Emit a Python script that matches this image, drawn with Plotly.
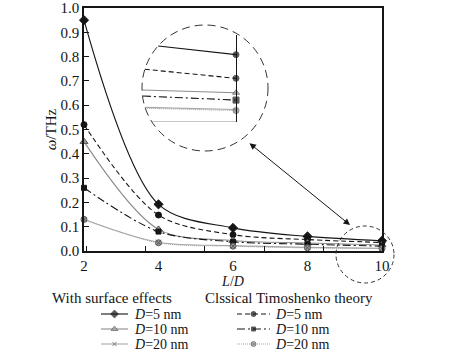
import plotly.graph_objects as go

W, H = 476, 354

# ---------------- data ----------------
L_over_D = [2, 4, 6, 8, 10]
surf_D5 = [0.95, 0.192, 0.095, 0.060, 0.042]
clas_D5 = [0.52, 0.148, 0.067, 0.047, 0.035]
surf_D10 = [0.45, 0.089, 0.043, 0.033, 0.025]
clas_D10 = [0.26, 0.080, 0.038, 0.028, 0.020]
surf_D20 = [0.13, 0.036, 0.022, 0.015, 0.011]
clas_D20 = [0.13, 0.034, 0.020, 0.013, 0.010]

x_tick_vals = [2, 4, 6, 8, 10]
y_tick_vals = [0.0, 0.1, 0.2, 0.3, 0.4, 0.5, 0.6, 0.7, 0.8, 0.9, 1.0]

# magnified inset near L/D = 10
inset_x_start = [9.18, 9.04, 9.01, 9.02, 9.04, 9.04]
inset_x_end = [10, 10, 10, 10, 10, 10]
inset_y_start = [0.0437, 0.0303, 0.0184, 0.0149, 0.0084, 0.0079]
inset_y_end = [0.0387, 0.0251, 0.0168, 0.0126, 0.0072, 0.0066]
inset_base_x = [9.12, 10]
inset_base_y = [0.0, 0.0]

legend_labels = ["<i>D</i>=5 nm", "<i>D</i>=10 nm", "<i>D</i>=20 nm"]
group_headers = ["With surface effects", "Clssical Timoshenko theory"]

FONT = "Liberation Serif, Times New Roman, DejaVu Serif, serif"
BLACK = "#151515"
GRAY1 = "#8c8c8c"
GRAY2 = "#a6a6a6"

series = [
    dict(y=surf_D5, color=BLACK, dash="solid", sym="diamond", mcol=BLACK, mline=BLACK, size=7,
         isym="circle", icol=BLACK, iline=BLACK),
    dict(y=clas_D5, color=BLACK, dash="5px,3px", sym="circle", mcol=BLACK, mline=BLACK, size=6,
         isym="circle", icol=BLACK, iline=BLACK),
    dict(y=surf_D10, color=GRAY1, dash="solid", sym="triangle-up", mcol="#9a9a9a", mline="#555555", size=7,
         isym="triangle-up", icol="#9a9a9a", iline="#555555"),
    dict(y=clas_D10, color=BLACK, dash="8px,3px,2px,3px", sym="square", mcol=BLACK, mline=BLACK, size=5,
         isym="square", icol=BLACK, iline=BLACK),
    dict(y=surf_D20, color=GRAY2, dash="solid", sym="x-thin", mcol="#555555", mline="#555555", size=5,
         isym=None, icol=None, iline=None),
    dict(y=clas_D20, color=GRAY2, dash="1px,1px", sym="circle-x", mcol="#9a9a9a", mline="#555555", size=6,
         isym="circle-x", icol="#9a9a9a", iline="#555555"),
]

fig = go.Figure()

# main curves
for s in series:
    fig.add_trace(go.Scatter(
        x=L_over_D, y=s["y"], mode="lines+markers", xaxis="x", yaxis="y",
        line=dict(color=s["color"], width=1.1, dash=s["dash"], shape="spline", smoothing=0.9),
        marker=dict(symbol=s["sym"], size=s["size"], color=s["mcol"],
                    line=dict(color=s["mline"], width=1)),
        showlegend=False, hoverinfo="skip", cliponaxis=False))

# inset curves
fig.add_trace(go.Scatter(x=inset_base_x, y=inset_base_y, mode="lines", xaxis="x2", yaxis="y2",
                         line=dict(color=GRAY1, width=1.1), showlegend=False, hoverinfo="skip"))
for i, s in enumerate(series):
    msize = [0, 6 if s["isym"] else 0]
    fig.add_trace(go.Scatter(
        x=[inset_x_start[i], inset_x_end[i]], y=[inset_y_start[i], inset_y_end[i]],
        mode="lines+markers", xaxis="x2", yaxis="y2",
        line=dict(color=s["color"], width=1.1, dash=s["dash"]),
        marker=dict(symbol=s["isym"] or "circle", size=msize, color=s["icol"] or s["color"],
                    line=dict(color=s["iline"] or s["color"], width=1)),
        showlegend=False, hoverinfo="skip", cliponaxis=False))

# legend samples (drawn on a full-figure overlay in pixel units)
leg_rows = [314, 329, 344]
leg_cols = [(101, 128), (237, 270)]
leg_text_x = [132, 273]
order = [[0, 2, 4], [1, 3, 5]]
annotations = []
for c, (x0, x1) in enumerate(leg_cols):
    for r, yrow in enumerate(leg_rows):
        s = series[order[c][r]]
        fig.add_trace(go.Scatter(
            x=[x0, (x0 + x1) / 2, x1], y=[yrow, yrow, yrow], mode="lines+markers",
            xaxis="x3", yaxis="y3",
            line=dict(color=s["color"], width=1.1, dash=s["dash"]),
            marker=dict(symbol=s["sym"], size=[0, s["size"] - 1, 0], color=s["mcol"],
                        line=dict(color=s["mline"], width=1)),
            showlegend=False, hoverinfo="skip"))
        annotations.append(dict(x=leg_text_x[c], y=yrow, xref="x3", yref="y3", text=legend_labels[r],
                                showarrow=False, xanchor="left", yanchor="middle",
                                font=dict(family=FONT, size=14, color=BLACK)))

annotations.append(dict(x=50, y=298, xref="x3", yref="y3", text=group_headers[0], showarrow=False,
                        xanchor="left", yanchor="middle", font=dict(family=FONT, size=15, color=BLACK)))
annotations.append(dict(x=203, y=298, xref="x3", yref="y3", text=group_headers[1], showarrow=False,
                        xanchor="left", yanchor="middle", font=dict(family=FONT, size=15, color=BLACK)))

# double-headed arrow linking the zoom circles
annotations.append(dict(x=350, y=225, xref="x3", yref="y3", ax=248, ay=142, axref="x3", ayref="y3",
                        text="", showarrow=True, arrowside="end+start", arrowhead=2, startarrowhead=2,
                        arrowsize=1.3, startarrowsize=1.3, arrowwidth=1, arrowcolor=BLACK))

shapes = [
    dict(type="circle", xref="x3", yref="y3", x0=142, x1=268, y0=25, y1=151,
         line=dict(color="#333333", width=1, dash="8px,5px")),
    dict(type="circle", xref="x3", yref="y3", x0=336, x1=394, y0=226, y1=283,
         line=dict(color="#333333", width=1, dash="4px,3px")),
]

axis_font = dict(family=FONT, size=15, color=BLACK)

fig.update_layout(
    template="none",
    width=W, height=H, autosize=False,
    margin=dict(l=0, r=0, t=0, b=0, pad=0),
    paper_bgcolor="white", plot_bgcolor="rgba(0,0,0,0)",
    font=dict(family=FONT, size=15, color=BLACK),
    xaxis=dict(domain=[84 / W, 382 / W], range=[2, 10], anchor="y", automargin=False,
               tickvals=x_tick_vals, ticks="", tickfont=axis_font,
               showline=True, linecolor=BLACK, linewidth=1.5, mirror=True,
               showgrid=False, zeroline=False,
               minor=dict(tick0=3.656, dtick=1.59, ticks="inside", ticklen=5,
                          tickcolor=BLACK, tickwidth=1, showgrid=False),
               title=dict(text="<i>L</i>/<i>D</i>", font=dict(family=FONT, size=14, color=BLACK),
                          standoff=3)),
    yaxis=dict(domain=[(H - 251) / H, (H - 8) / H], range=[0, 1], anchor="x", automargin=False,
               tickvals=y_tick_vals, tickformat=".1f", ticks="inside", ticklen=5,
               tickcolor=BLACK, tickfont=axis_font,
               showline=True, linecolor=BLACK, linewidth=1.5, mirror=True,
               showgrid=False, zeroline=False,
               title=dict(text="<i>ω</i>/THz", font=axis_font, standoff=0)),
    xaxis2=dict(domain=[141 / W, 236 / W], range=[9.0, 10.0], anchor="y2", visible=False,
                automargin=False),
    yaxis2=dict(domain=[(H - 122) / H, (H - 35) / H], range=[0, 0.05], anchor="x2", automargin=False,
                side="right", showline=True, linecolor=BLACK, linewidth=1.2,
                ticks="", showticklabels=False, showgrid=False, zeroline=False),
    xaxis3=dict(domain=[0, 1], range=[0, W], anchor="y3", visible=False, fixedrange=True,
                automargin=False),
    yaxis3=dict(domain=[0, 1], range=[H, 0], anchor="x3", visible=False, fixedrange=True,
                automargin=False),
    annotations=annotations,
    shapes=shapes,
)

fig.write_html("out.html")
